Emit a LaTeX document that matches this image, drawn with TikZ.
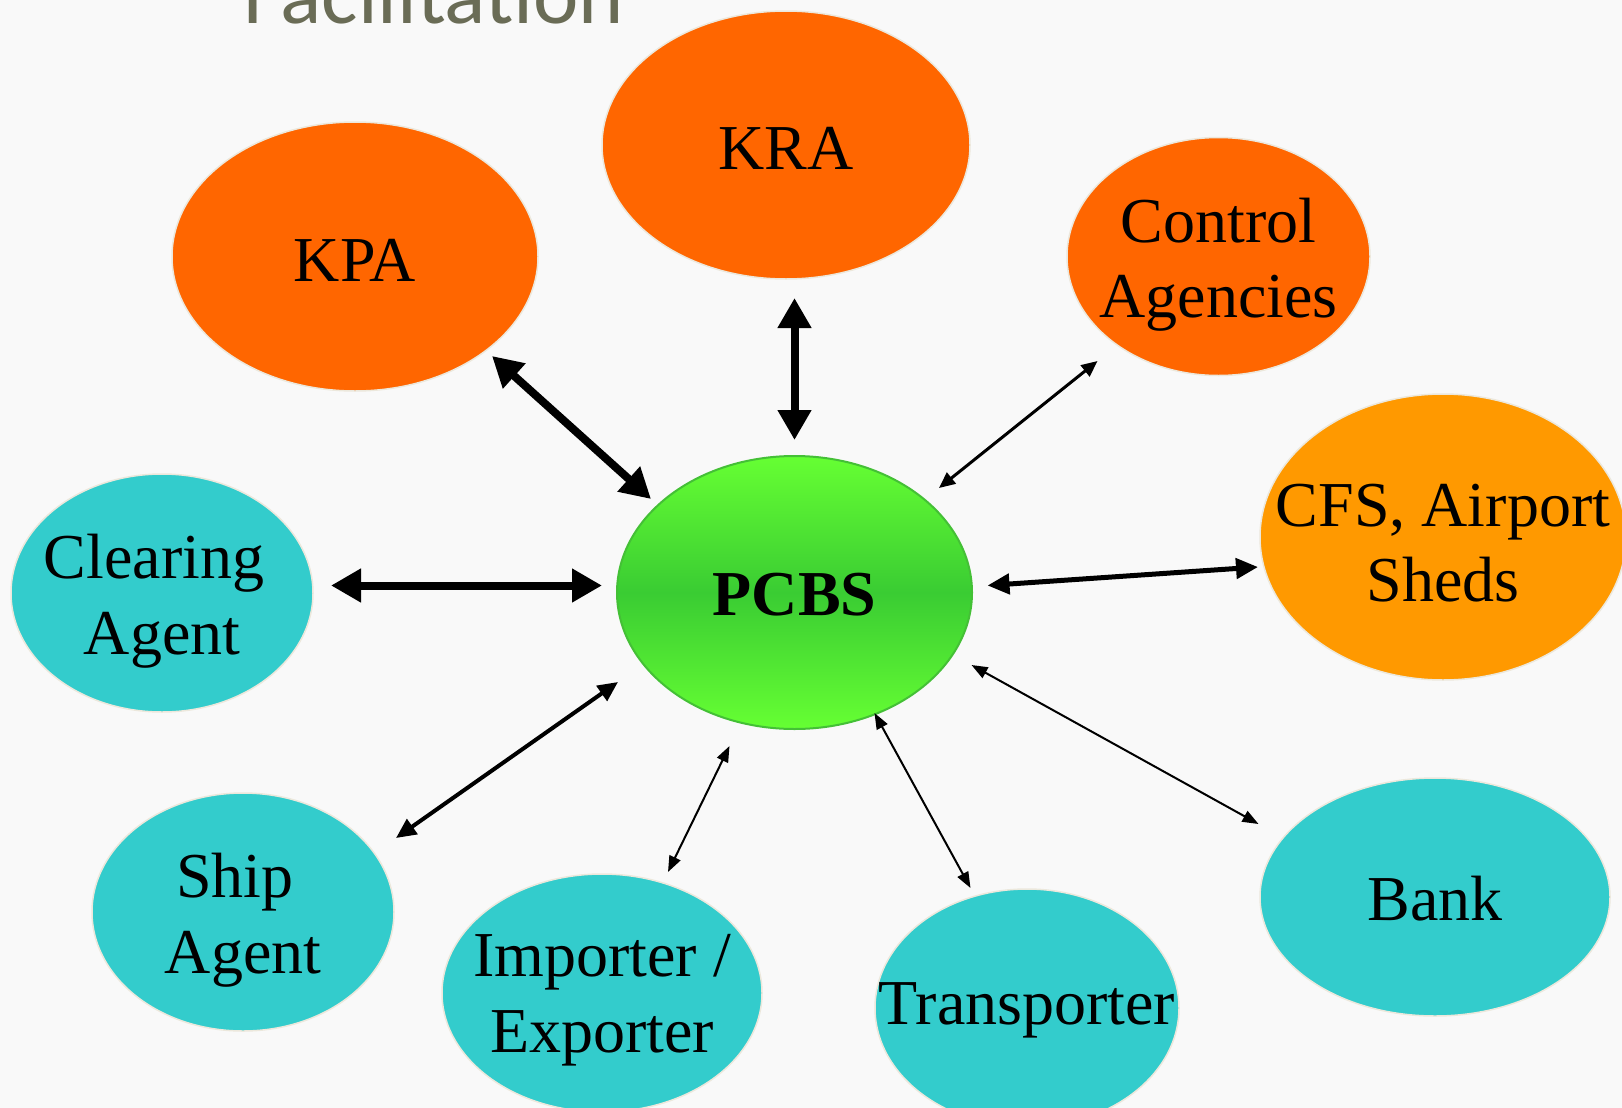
\documentclass[tikz,border=0pt]{standalone}
\usepackage{fontspec}
\setmainfont{Liberation Serif}
\newfontfamily\titlefont{Carlito}
\usetikzlibrary{shapes.geometric,arrows.meta}
\definecolor{bgc}{HTML}{F9F9F9}
\definecolor{orangeA}{HTML}{FF6600}
\definecolor{orangeB}{HTML}{FF9900}
\definecolor{tealc}{HTML}{33CCCC}
\definecolor{greenL}{HTML}{66FF33}
\definecolor{greenD}{HTML}{3ACC33}
\definecolor{greenE}{HTML}{44C036}
\definecolor{rimc}{HTML}{ECE8DC}
\definecolor{titlec}{HTML}{6A6C56}
\begin{document}
\begin{tikzpicture}[x=0.5pt,y=-0.5pt,
  bubble/.style={shape=ellipse, draw=rimc, line width=0.75pt, inner sep=0pt},
  txt/.style={inner sep=0pt, align=center, font=\fontsize{32}{37.75}\selectfont},
  thickarrow/.style={line width=4pt, {Triangle[length=15pt,width=16pt]}-{Triangle[length=15pt,width=16pt]}},
  midarrow/.style={line width=2.5pt, {Triangle[length=11pt,width=10pt]}-{Triangle[length=11pt,width=10pt]}},
  shiparrow/.style={line width=2pt, {Triangle[length=10pt,width=9pt]}-{Triangle[length=10pt,width=9pt]}},
  ctrlarrow/.style={line width=1.5pt, {Triangle[length=8pt,width=7pt]}-{Triangle[length=8pt,width=7pt]}},
  thinarrow/.style={line width=1pt, {Triangle[length=8pt,width=6pt]}-{Triangle[length=8pt,width=6pt]}}
]
\useasboundingbox (0,0) rectangle (1622,1108);
\clip (0,0) rectangle (1622,1108);
\fill[bgc] (0,0) rectangle (1622,1108);

\node[anchor=base west, inner sep=0pt, text=titlec,
  font=\titlefont\fontsize{43}{50}\selectfont] (title) at (243,24) {Facilitation};

% outer ellipses
\node[bubble, fill=orangeA, minimum width=184pt, minimum height=134pt] (kra) at (786,145) {};
\node[bubble, fill=orangeA, minimum width=183pt, minimum height=134.5pt] (kpa) at (355,256.5) {};
\node[bubble, fill=orangeA, minimum width=151.5pt, minimum height=119pt] (ctrl) at (1218.5,256.5) {};
\node[bubble, fill=orangeB, minimum width=183pt, minimum height=143pt] (cfs) at (1443,537) {};
\node[bubble, fill=tealc, minimum width=151pt, minimum height=119pt] (clear) at (162,593) {};
\node[bubble, fill=tealc, minimum width=151pt, minimum height=119pt] (ship) at (243,912) {};
\node[bubble, fill=tealc, minimum width=160pt, minimum height=119pt] (imp) at (602,993) {};
\node[bubble, fill=tealc, minimum width=152pt, minimum height=119pt] (trans) at (1027,1008) {};
\node[bubble, fill=tealc, minimum width=175pt, minimum height=119pt] (bank) at (1435,897) {};

% centre ellipse
\node[shape=ellipse, draw=greenE, line width=1pt, inner sep=0pt,
  top color=greenL, bottom color=greenL, middle color=greenD,
  minimum width=177.5pt, minimum height=136.5pt] (pcbs) at (794.5,592.5) {};

% texts
\node[txt, yshift=-1.5pt] (kraT) at (kra) {KRA};
\node[txt, yshift=-2pt] (kpaT) at (kpa) {KPA};
\node[txt, yshift=-4pt] (ctrlT) at (ctrl) {Control\\Agencies};
\node[txt, yshift=-3pt] (cfsT) at (cfs) {CFS, Airport\\Sheds};
\node[txt, yshift=-4pt] (clearT) at (clear) {Clearing\kern0.25em\\Agent};
\node[txt, yshift=-4pt] (shipT) at (ship) {Ship\kern0.25em\\Agent};
\node[txt, yshift=-3.5pt] (impT) at (imp) {Importer /\\Exporter};
\node[txt, yshift=-1pt] (transT) at (trans) {Transporter};
\node[txt, yshift=-1pt] (bankT) at (bank) {Bank};
\node[txt, yshift=-1pt, font=\fontsize{32}{37.75}\selectfont\bfseries] (pcbsT) at (pcbs) {PCBS};

% connector end points
\coordinate (kpaA) at (492,356);
\coordinate (kpaB) at (651,499);
\coordinate (kraA) at (794.5,298);
\coordinate (kraB) at (794.5,440);
\coordinate (ctrlA) at (1097.5,361);
\coordinate (ctrlB) at (939,488);
\coordinate (clearA) at (331,585.5);
\coordinate (clearB) at (602,585.5);
\coordinate (cfsA) at (1258,567);
\coordinate (cfsB) at (987.5,585.5);
\coordinate (shipA) at (396,838);
\coordinate (shipB) at (618,682);
\coordinate (impA) at (668,872);
\coordinate (impB) at (729.5,746);
\coordinate (transA) at (970.5,888);
\coordinate (transB) at (874.5,713);
\coordinate (bankA) at (1258.5,824);
\coordinate (bankB) at (971.5,665);

\draw[thickarrow] (kpaA) -- (kpaB);
\draw[thickarrow] (kraA) -- (kraB);
\draw[thickarrow] (clearA) -- (clearB);
\draw[ctrlarrow] (ctrlA) -- (ctrlB);
\draw[midarrow] (cfsA) -- (cfsB);
\draw[shiparrow] (shipA) -- (shipB);
\draw[thinarrow] (impA) -- (impB);
\draw[thinarrow] (transA) -- (transB);
\draw[thinarrow] (bankA) -- (bankB);
\end{tikzpicture}
\end{document}
